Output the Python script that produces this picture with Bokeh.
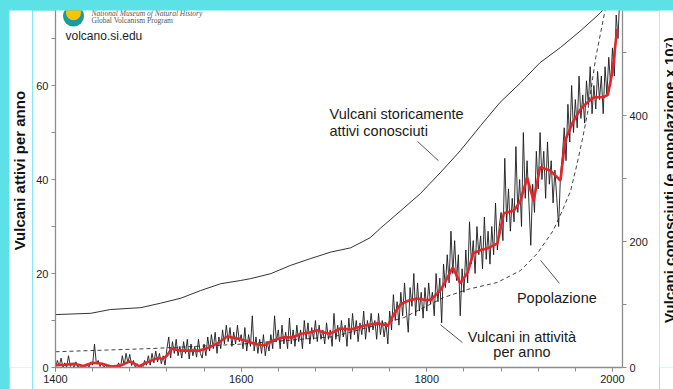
import math
from bokeh.plotting import figure
from bokeh.layouts import row
from bokeh.models import Range1d, LinearAxis, FixedTicker, Label
from bokeh.core.properties import value
from bokeh.embed import file_html
from bokeh.resources import INLINE

# ---- data ----
years = list(range(1400, 2012, 2))
active = [
    0, 1.5, 0.3, 2, 0,        1, 0, 2.5, 0.2, 0.8,
    0, 1.2, 0, 0.5, 0,        0.3, 0, 0.8, 0, 1.2,
    0.5, 5, 0.8, 1.5, 0.2,    1, 0, 0.5, 0, 0,
    0.3, 0, 0.5, 0, 1,        0, 2.5, 0.5, 3, 1,
    2.8, 0.4, 1.5, 0, 0.8,    0, 0.3, 0, 1.5, 0.5,
    2.5, 0.5, 3, 1, 3.5,      1.2, 3, 0.8, 2.5, 0.5,
    4, 6.5, 2, 5.5, 3,        6, 2.5, 4.5, 2, 5.5,
    3, 6, 1.8, 5, 2.5,        4.5, 2.2, 6, 3, 2,
    5, 2.5, 6.5, 3.5, 7,      4, 7.5, 3, 6.5, 4,
    8, 5, 9, 5.5, 8.5,        4.5, 7.5, 5, 9, 5.5,
    7, 4, 8.5, 3.5, 7,        4.5, 11, 3.5, 6.5, 3,
    6, 3, 7, 2.5, 5.5,        3.5, 7, 4, 11, 5.5,
    8, 4, 9, 5, 7.5,          4, 10.5, 5, 8, 4.5,
    9, 5.5, 8, 4, 10,         6, 9.5, 5, 8.5, 6,
    10, 5.5, 9, 6, 8,         5, 9.5, 6, 8, 4.5,
    11.5, 6, 9, 5.5, 10,      6.5, 9, 4.5, 10.5, 6,
    11.5, 7, 10, 5.5, 9.5,    7, 12, 6, 10, 7.5,
    11.5, 8, 10, 6, 11.5,     7, 10, 6.5, 9.5, 5,
    12, 8, 15.5, 10, 14,      9, 16, 11, 18, 12,
    7.5, 17, 13, 20, 11,      18, 12, 16, 10.5, 17,
    12, 18, 13.5, 16, 11,     20, 14, 19, 9.5, 22,
    17, 24, 18, 29, 20,       27, 18.5, 24, 11, 21,
    16, 25, 18, 31, 22,       27, 20, 30, 24, 28,
    21, 32, 23, 29, 22,       30, 24, 35, 25, 30,
    33, 27, 44.5, 31, 38,     29, 36, 31, 47, 33,
    40, 30, 50, 36, 44,       35, 26, 39, 33, 46,
    38, 50, 40, 46, 36,       48, 39, 44, 35, 42,
    36, 30, 41, 45, 51,       44, 56, 48, 60, 50,
    57, 51, 62, 53, 58,       52, 61, 56, 64, 54,
    60, 55, 63, 57, 62,       54, 64, 58, 66, 60,
    68, 62, 75, 70, 80,       78,
]

smooth_years = [1400, 1410, 1420, 1430, 1440, 1450, 1460, 1470, 1480, 1490,
                1500, 1510, 1515, 1520, 1525, 1535, 1545, 1555, 1565, 1575,
                1585, 1595, 1605, 1615, 1625, 1635, 1645, 1655, 1665, 1675,
                1682, 1690, 1696, 1707, 1718, 1732, 1747, 1758, 1765, 1772,
                1780, 1790, 1800, 1805, 1815, 1822, 1828, 1836, 1844, 1850,
                1858, 1865, 1876, 1883, 1894, 1901, 1908, 1915, 1922, 1933,
                1944, 1949, 1957, 1966, 1973, 1980, 1990, 1995, 2000, 2005]
smooth_vals = [0.5, 0.6, 0.8, 0.3, 1.0, 0.8, 0.2, 0.4, 1.3, 0.3,
               1.2, 2.0, 1.8, 2.5, 4.0, 3.6, 3.6, 3.6, 4.2, 5.2,
               6.6, 6.2, 5.7, 5.0, 4.7, 5.8, 6.4, 6.4, 7.2, 7.5,
               7.9, 7.4, 7.2, 8.3, 8.1, 8.9, 9.4, 8.9, 11.5, 13.5,
               14.2, 14.7, 14.3, 14.5, 16.5, 19, 21.3, 17.9, 20.2, 24.3,
               25, 25.3, 26.4, 32.8, 33.4, 35.5, 40.4, 35.5, 42.6, 41.9,
               39.8, 48.3, 52.1, 55.1, 56.4, 57.5, 57.5, 58, 63, 72]

hist_years = [1400, 1438, 1459, 1492, 1513, 1535, 1556, 1578, 1599, 1610,
              1632, 1653, 1675, 1696, 1718, 1739, 1750, 1772, 1793, 1815,
              1836, 1858, 1879, 1901, 1922, 1944, 1966, 1987, 1998]
hist_vals = [84, 86, 92, 95, 102, 110, 122, 133, 138, 141,
             149, 162, 173, 183, 190, 206, 221, 249, 276, 310,
             344, 384, 421, 452, 484, 508, 535, 563, 583]

pop_years = [1400, 1502, 1599, 1700, 1775, 1818, 1844, 1876, 1901, 1919,
             1936, 1946, 1955, 1962, 1968, 1973, 1982, 1992, 2000]
pop_vals = [25, 30, 37, 49, 79, 111, 124, 135, 154, 181,
            217, 249, 281, 324, 365, 403, 492, 567, 620]

x_ticks = [1400, 1600, 1800, 2000]
left_ticks = [0, 20, 40, 60]
right_ticks = [0, 200, 400]

left_title = "Vulcani attivi per anno"
right_title = "Vulcani conosciuti (e popolazione x 10\u2077)"

# annotation anchors (data units)
lead_x0 = [1790.0, 1922.5, 1814.7]
lead_y0 = [48.1, 22.8, 9.1]
lead_x1 = [1812.6, 1942.9, 1838.4]
lead_y1 = [44.0, 17.9, 5.3]

FONT = "Liberation Sans"
AX = "#8c8c8c"
X0, X1 = 1400, 2010.8
Y1 = 75.96
H = 379
LW, MW, RW = 23, 627, 14

p = figure(width=MW, height=H, output_backend="svg", toolbar_location=None,
           x_range=Range1d(X0, X1), y_range=Range1d(0, Y1),
           min_border_left=23, min_border_right=37, min_border_top=0,
           min_border_bottom=22, background_fill_color="white",
           border_fill_color="white")
p.extra_y_ranges = {"right": Range1d(0, 566.7)}
p.outline_line_color = None
p.xgrid.grid_line_color = None
p.ygrid.grid_line_color = None

right = LinearAxis(y_range_name="right")
p.add_layout(right, "right")


def style(ax):
    ax.axis_line_color = AX
    ax.axis_line_width = 1.3
    ax.major_tick_line_color = AX
    ax.minor_tick_line_color = AX
    ax.major_tick_in = 0
    ax.major_tick_out = 4
    ax.minor_tick_in = 0
    ax.minor_tick_out = 4
    ax.major_label_text_font = FONT
    ax.major_label_text_font_size = "11px"
    ax.major_label_text_color = "#222222"
    ax.major_label_standoff = 3


xa = p.xaxis[0]
ya = p.yaxis[0]
for ax in (xa, ya, right):
    style(ax)

xa.ticker = FixedTicker(ticks=x_ticks, minor_ticks=list(range(1400, 2011, 40)))
ya.ticker = FixedTicker(ticks=left_ticks, minor_ticks=[10, 30, 50, 70])
right.ticker = FixedTicker(ticks=right_ticks, minor_ticks=[100, 300, 500])

# ---- series ----
p.line(hist_years, hist_vals, y_range_name="right", line_color="#333333", line_width=1)
p.line(pop_years, pop_vals, y_range_name="right", line_color="#444444",
       line_width=1, line_dash="4 3")
p.line(years, active, line_color="#1a1a1a", line_width=0.9)
p.line(smooth_years, smooth_vals, line_color="#e3262b", line_width=2.6)

# leader lines
p.segment(x0=lead_x0, y0=lead_y0, x1=lead_x1, y1=lead_y1, line_color="#555555", line_width=1)


def lab(x, y, text, size="14.5px", font=FONT, align="left", style="normal", color="#1a1a1a"):
    p.add_layout(Label(x=x, y=y, text=text, text_font=font, text_font_size=size,
                       text_align=align, text_baseline="middle",
                       text_font_style=style, text_color=color))


lab(1695.2, 54.0, "Vulcani storicamente")
lab(1695.2, 50.4, "attivi conosciuti")
lab(1897.1, 14.7, "Popolazione")
lab(1902.5, 6.5, "Vulcani in attività", align="center")
lab(1902.5, 3.2, "per anno", align="center")

# logo block
p.scatter([1419.4], [74.8], size=21, fill_color="#1b9aa0", line_color=None)
p.scatter([1419.4], [75.5], size=15, fill_color="#f6c500", line_color=None)
lab(1438.8, 75.3, "National Museum of Natural History", size="7.5px",
    font="Liberation Serif", style="italic", color="#555555")
lab(1438.8, 73.8, "Global Volcanism Program", size="7.5px",
    font="Liberation Serif", color="#555555")
lab(1410.8, 70.6, "volcano.si.edu", size="12px", color="#222222")


def strip(w, x, y, text):
    f = figure(width=w, height=H, output_backend="svg", toolbar_location=None,
               x_range=Range1d(0, w), y_range=Range1d(0, H),
               x_axis_type=None, y_axis_type=None, min_border=0,
               background_fill_color="white", border_fill_color="white")
    f.outline_line_color = None
    f.grid.visible = False
    f.text(x=[x], y=[y], text=[text], angle=math.pi / 2, text_align="center",
           text_baseline="middle", text_font=value(FONT), text_font_style="bold",
           text_font_size="15px", text_color="#111111")
    return f


lt = strip(LW, 10, H - 170, left_title)
rt = strip(RW, 9.5, H - 180, right_title)

layout = row(lt, p, rt, spacing=0)
layout.margin = (10, 0, 0, 9)

html = file_html(layout, INLINE, title="Vulcani")
html = html.replace("<head>", "<head><style>html,body{margin:0;padding:0;background:#5ce1e6;overflow:hidden;}</style>", 1)
open("out.html", "w").write(html)
